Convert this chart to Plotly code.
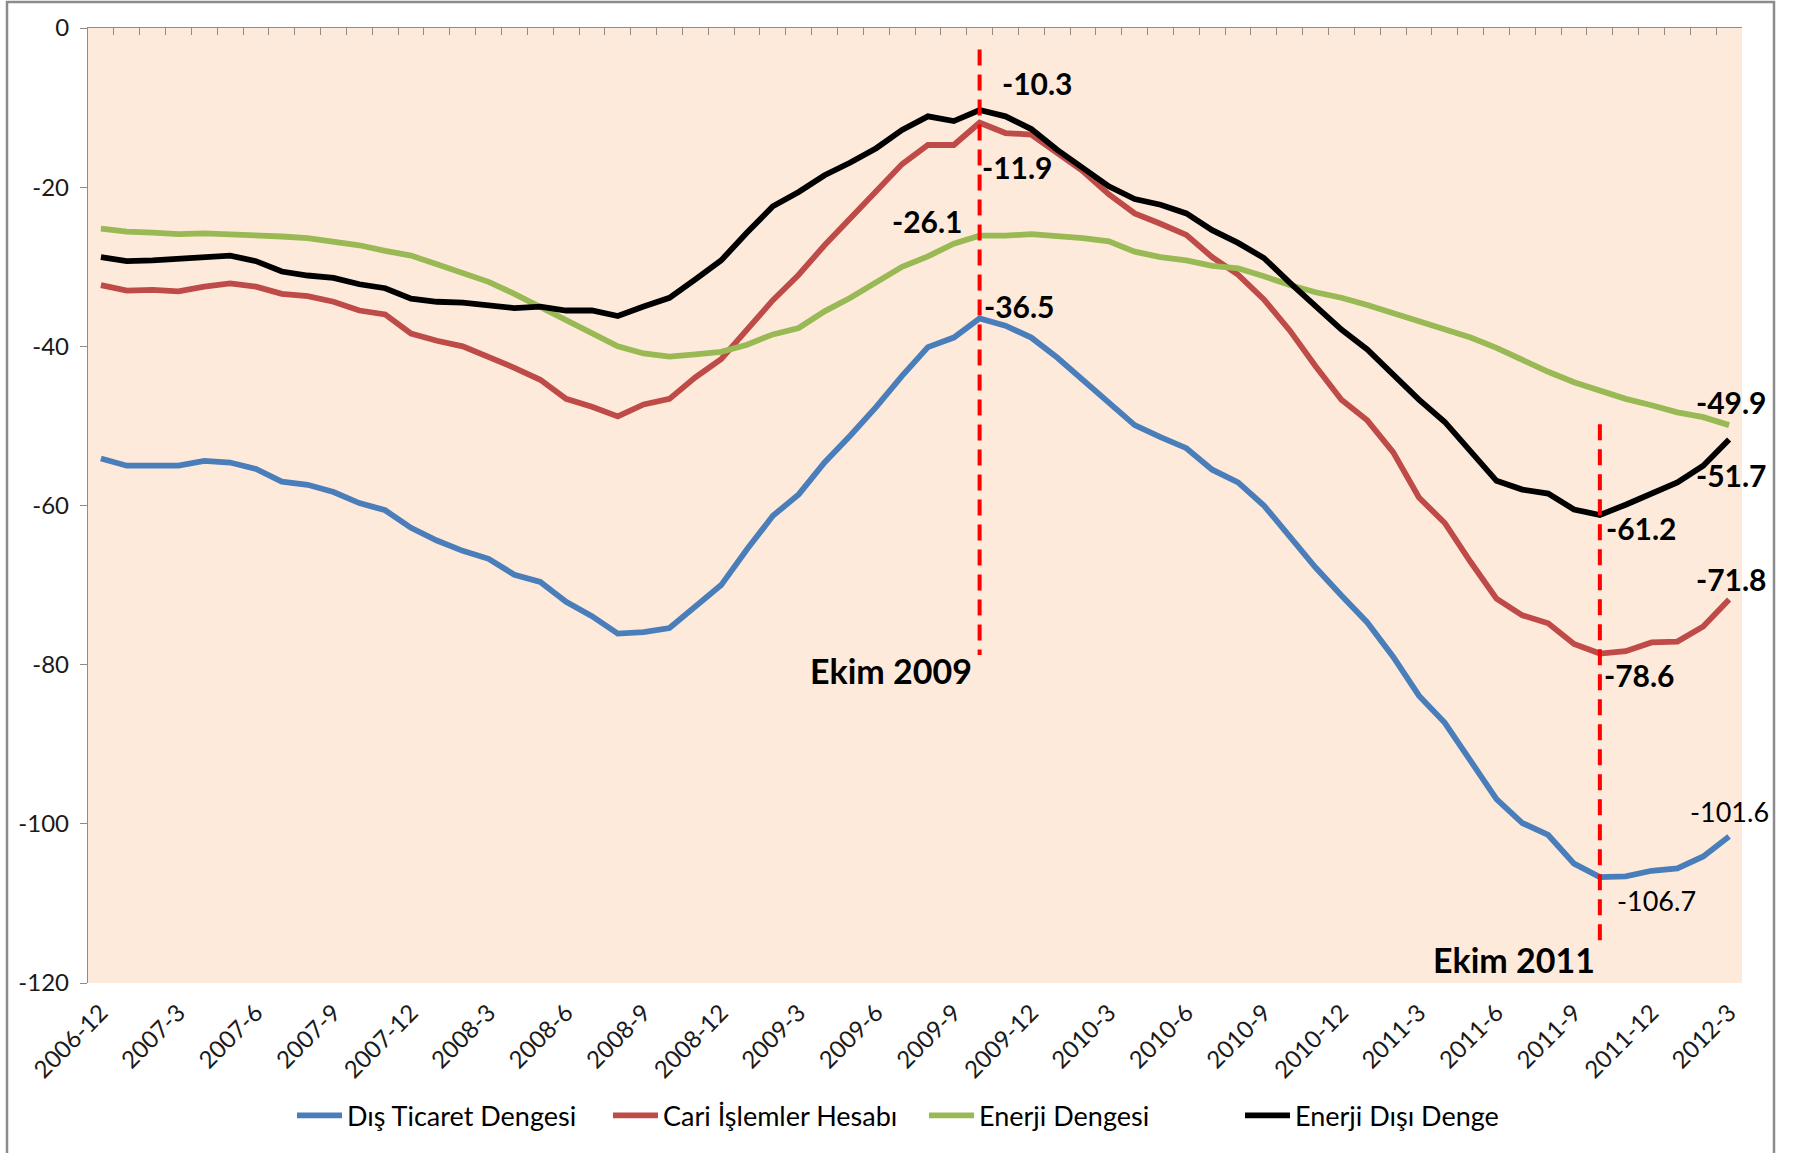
import plotly.graph_objects as go

# ---- data -------------------------------------------------------------
months = []
for y in range(2006, 2013):
    for m in range(1, 13):
        if (y == 2006 and m < 12) or (y == 2012 and m > 3):
            continue
        months.append(f"{y}-{m}")

dis_ticaret = [
    -54.1, -55.0, -55.0, -55.0, -54.4, -54.6, -55.4, -57.0, -57.4, -58.3, -59.7, -60.6, -62.8, -64.4, -65.7, -66.7,
    -68.7, -69.6, -72.1, -73.9, -76.1, -75.9, -75.4, -72.7, -70.0, -65.5, -61.3, -58.6, -54.6, -51.2, -47.6, -43.7,
    -40.1, -38.9, -36.5, -37.4, -38.9, -41.4, -44.3, -47.2, -49.9, -51.4, -52.8, -55.5, -57.1, -60.0, -63.9, -67.8,
    -71.3, -74.7, -79.0, -83.9, -87.3, -92.2, -96.9, -99.9, -101.4, -105.0, -106.7, -106.6, -105.9, -105.6, -104.1, -101.6,
]
cari = [
    -32.3, -33.0, -32.9, -33.1, -32.5, -32.1, -32.5, -33.4, -33.7, -34.4, -35.5, -36.0, -38.4, -39.3, -40.0, -41.3,
    -42.7, -44.2, -46.6, -47.6, -48.8, -47.3, -46.6, -43.9, -41.6, -37.9, -34.2, -31.0, -27.3, -23.9, -20.6, -17.1,
    -14.7, -14.7, -11.9, -13.2, -13.4, -15.8, -18.0, -20.9, -23.3, -24.6, -26.0, -28.8, -31.0, -34.1, -38.0, -42.5,
    -46.7, -49.3, -53.3, -59.0, -62.2, -67.1, -71.7, -73.8, -74.8, -77.4, -78.6, -78.3, -77.2, -77.1, -75.2, -71.8,
]
enerji = [
    -25.2, -25.6, -25.7, -25.9, -25.8, -25.9, -26.1, -26.2, -26.4, -26.9, -27.3, -28.0, -28.6, -29.7, -30.8, -31.9,
    -33.4, -35.0, -36.7, -38.4, -40.0, -40.9, -41.3, -41.0, -40.7, -39.8, -38.5, -37.7, -35.6, -33.9, -31.9, -30.0,
    -28.7, -27.1, -26.1, -26.1, -25.9, -26.1, -26.4, -26.8, -28.1, -28.8, -29.2, -29.9, -30.2, -31.2, -32.3, -33.2,
    -33.9, -34.8, -35.8, -36.9, -37.9, -38.9, -40.2, -41.8, -43.2, -44.5, -45.5, -46.6, -47.4, -48.3, -48.9, -49.9,
]
enerji_disi = [
    -28.8, -29.3, -29.2, -29.0, -28.7, -28.6, -29.3, -30.6, -31.1, -31.4, -32.2, -32.7, -34.0, -34.4, -34.5, -34.8,
    -35.2, -35.0, -35.5, -35.5, -36.2, -35.0, -33.9, -31.6, -29.2, -25.7, -22.4, -20.6, -18.5, -16.9, -15.1, -12.8,
    -11.1, -11.7, -10.3, -11.1, -12.7, -15.3, -17.5, -19.9, -21.5, -22.2, -23.3, -25.4, -27.0, -28.9, -32.0, -35.0,
    -37.9, -40.4, -43.6, -46.7, -49.5, -53.2, -56.9, -58.0, -58.5, -60.5, -61.2, -59.9, -58.5, -57.1, -55.0, -51.7,
]

series_names = ["Dış Ticaret Dengesi", "Cari İşlemler Hesabı", "Enerji Dengesi", "Enerji Dışı Denge"]
series_values = [dis_ticaret, cari, enerji, enerji_disi]
series_colors = ["#4A7EBB", "#BE4B48", "#98B954", "#000000"]

tick_labels = months[::3]
y_ticks = [0, -20, -40, -60, -80, -100, -120]
y_tick_labels = [str(v) for v in y_ticks]

events = ["Ekim 2009", "Ekim 2011"]
event_months = ["2009-10", "2011-10"]
event_line_top = [-2.7, -49.8]
event_line_bottom = [-78.8, -115.0]

# ---- figure -----------------------------------------------------------
idx = list(range(len(months)))
fig = go.Figure()

for name, vals, col in zip(series_names, series_values, series_colors):
    fig.add_trace(go.Scatter(
        x=idx, y=vals, name=name, mode="lines",
        line=dict(color=col, width=5.8),
        hovertemplate="%{text}: %{y}<extra>" + name + "</extra>",
        text=months,
    ))

for em, top, bot in zip(event_months, event_line_top, event_line_bottom):
    i = months.index(em)
    fig.add_trace(go.Scatter(
        x=[i, i], y=[top, bot], mode="lines", showlegend=False, hoverinfo="skip",
        line=dict(color="#FF0000", width=4, dash="16px,9px"),
    ))

i09 = months.index("2009-10")
i11 = months.index("2011-10")
last = len(months) - 1

# (series index, point index, xshift, yshift, bold)
labels = [
    (3, i09, 58, 27, True),
    (1, i09, 38, -44, True),
    (2, i09, -52, 15, True),
    (0, i09, 40, 12, True),
    (2, last, 2, 23, True),
    (3, last, 2, -36, True),
    (3, i11, 42, -13, True),
    (1, last, 2, 20, True),
    (1, i11, 40, -21, True),
    (0, last, 0, 25, False),
    (0, i11, 57, -23, False),
]
annotations = []
for s, i, dx, dy, bold in labels:
    v = series_values[s][i]
    txt = f"{v:.1f}"
    annotations.append(dict(
        x=i, y=v, xref="x", yref="y", text=f"<b>{txt}</b>" if bold else txt,
        showarrow=False, xshift=dx, yshift=dy,
        font=dict(family="Lato", size=30 if bold else 27, color="#000000"),
    ))

event_label_y = [-80.7, -117.1]
event_label_shift = [-6, -3]
for ev, em, ly, sh in zip(events, event_months, event_label_y, event_label_shift):
    annotations.append(dict(
        x=months.index(em), y=ly, xref="x", yref="y", text=f"<b>{ev}</b>",
        showarrow=False, xanchor="right", xshift=sh,
        font=dict(family="Lato", size=34, color="#000000"),
    ))

fig.update_layout(
    width=1795, height=1153,
    margin=dict(l=88, r=53, t=28, b=170),
    paper_bgcolor="#FFFFFF",
    plot_bgcolor="#FDEADA",
    font=dict(family="Lato", color="#1a1a1a"),
    showlegend=True,
    legend=dict(
        orientation="h", x=(292 - 88) / 1654, xanchor="left", y=-0.139, yanchor="middle",
        font=dict(family="Lato", size=27, color="#000000"),
        itemwidth=45, entrywidth=256, entrywidthmode="pixels",
        tracegroupgap=0, bgcolor="rgba(0,0,0,0)",
    ),
    xaxis=dict(
        range=[-0.5, len(months) - 0.5],
        tickmode="array", tickvals=idx[::3], ticktext=tick_labels,
        tickangle=-45, ticks="", showline=False, showgrid=False, zeroline=False,
        ticklabelstandoff=10,
        tickfont=dict(family="Lato", size=24, color="#1a1a1a"),
    ),
    xaxis2=dict(
        range=[-0.5, len(months) - 0.5], overlaying="x", side="top",
        tickmode="array", tickvals=[k - 0.5 for k in range(len(months) + 1)],
        ticks="inside", ticklen=7, tickwidth=1.3, tickcolor="#8c8c8c",
        showticklabels=False, showline=True, linecolor="#8c8c8c", linewidth=1.3,
        showgrid=False, zeroline=False,
    ),
    yaxis=dict(
        range=[-120, 0], tickmode="array", tickvals=y_ticks, ticktext=y_tick_labels,
        ticks="outside", ticklen=7, tickwidth=1.3, tickcolor="#8c8c8c",
        showline=True, linecolor="#8c8c8c", linewidth=1.3,
        showgrid=False, zeroline=False, ticklabelstandoff=6,
        tickfont=dict(family="Lato", size=24, color="#1a1a1a"),
    ),
    annotations=annotations,
    shapes=[dict(
        type="rect", xref="paper", yref="paper",
        x0=(7 - 88) / 1654, x1=(1774 - 88) / 1654,
        y0=(983 - 1160) / 955, y1=(983 - 2) / 955,
        line=dict(color="#8c8c8c", width=2.5), fillcolor="rgba(0,0,0,0)", layer="below",
    )],
)
# dummy trace to activate the top axis
fig.add_trace(go.Scatter(x=[0], y=[None], xaxis="x2", showlegend=False, hoverinfo="skip"))

fig.write_html("out.html", config={"displayModeBar": False},
               post_script="document.body.style.margin='0px';")
